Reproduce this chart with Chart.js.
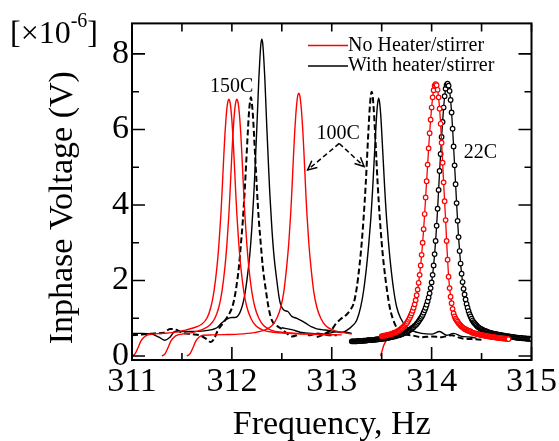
<!DOCTYPE html>
<html><head><meta charset="utf-8">
<script src="https://cdn.jsdelivr.net/npm/chart.js@4.4.1/dist/chart.umd.min.js"></script>
<style>html,body{margin:0;padding:0;background:#fff;}#wrap{width:559px;height:441px;}</style>
</head><body><div id="wrap"><canvas id="c" width="559" height="441"></canvas></div>
<script>
const xTicks = [311, 312, 313, 314, 315];
const xMinor = [311.5, 312.5, 313.5, 314.5];
const yTicks = [0, 2, 4, 6, 8];
const yMinor = [1, 3, 5, 7];
const seriesNames = ['No Heater/stirrer', 'With heater/stirrer'];
const xTitle = 'Frequency, Hz';
const yTitle = 'Inphase Voltage (V)';
const annoText = ['150C', '100C', '22C'];
const annoX = [311.78, 312.848, 314.322];
const annoY = [7.00, 5.76, 5.24];
const arrowFrom = [313.075, 5.63];
const arrowToX = [312.759, 313.324];
const arrowToY = [4.93, 5.02];

// No heater (red), 150C / 100C sweeps
const fR1 = [311.00,311.03,311.06,311.09,311.12,311.16,311.20,311.30,311.40,311.52,311.62,311.70,311.75,311.79,311.82,311.85,311.87,311.89,311.90,311.91,311.92,311.93,311.94,311.95,311.96,311.97,311.98,311.99,312.00,312.01,312.02,312.03,312.04,312.05,312.07,312.09,312.12,312.15,312.19,312.24,312.32,312.42,312.57,312.75,313.00];
const vR1 = [0.00,0.06,0.22,0.40,0.50,0.56,0.58,0.60,0.62,0.68,0.75,0.85,1.00,1.30,1.70,2.34,2.95,3.75,4.25,4.80,5.35,5.85,6.25,6.55,6.74,6.80,6.74,6.55,6.25,5.85,5.35,4.80,4.25,3.75,2.95,2.34,1.70,1.30,1.00,0.80,0.68,0.63,0.60,0.58,0.56];
const fR2 = [311.30,311.33,311.36,311.39,311.42,311.46,311.50,311.60,311.70,311.78,311.83,311.87,311.90,311.93,311.95,311.97,311.98,311.99,312.00,312.01,312.02,312.03,312.04,312.05,312.06,312.07,312.08,312.09,312.10,312.11,312.12,312.13,312.15,312.17,312.20,312.23,312.27,312.32,312.40,312.50,312.65,312.85,313.10];
const vR2 = [0.00,0.06,0.22,0.40,0.50,0.56,0.58,0.62,0.70,0.82,1.00,1.30,1.70,2.34,2.95,3.75,4.25,4.80,5.35,5.85,6.25,6.55,6.74,6.80,6.74,6.55,6.25,5.85,5.35,4.80,4.25,3.75,2.95,2.34,1.70,1.30,1.00,0.80,0.68,0.63,0.60,0.58,0.56];
const fR3 = [311.55,311.58,311.61,311.64,311.67,311.71,311.80,311.95,312.07,312.22,312.32,312.40,312.45,312.49,312.52,312.55,312.57,312.59,312.60,312.61,312.62,312.63,312.64,312.65,312.66,312.67,312.68,312.69,312.70,312.71,312.72,312.73,312.74,312.75,312.77,312.79,312.82,312.85,312.89,312.94,313.02,313.12,313.20];
const vR3 = [0.00,0.06,0.22,0.40,0.50,0.55,0.56,0.57,0.58,0.62,0.68,0.80,1.00,1.30,1.70,2.40,3.00,3.82,4.34,4.91,5.47,5.98,6.39,6.70,6.90,6.96,6.90,6.70,6.39,5.98,5.47,4.91,4.34,3.82,3.00,2.40,1.70,1.30,1.00,0.80,0.68,0.62,0.58];
// red 22C sweep start (line only)
const fR22s = [313.49,313.50,313.52,313.55,313.58,313.61];
const vR22s = [0.00,0.10,0.28,0.42,0.50,0.57];
// red 22C (markers)
const fR22 = [313.50,313.51,313.52,313.53,313.54,313.55,313.56,313.57,313.58,313.59,
313.60,313.61,313.62,313.63,313.64,313.65,313.66,313.67,313.68,313.69,
313.70,313.71,313.72,313.73,313.74,313.75,313.76,313.77,313.78,313.79,
313.80,313.81,313.82,313.83,313.84,313.85,313.86,313.87,313.88,313.89,
313.90,313.91,313.92,313.93,313.94,313.95,313.96,313.97,313.98,313.99,
314.00,314.01,314.02,314.03,314.04,314.05,314.06,314.07,314.08,314.09,
314.10,314.11,314.12,314.13,314.14,314.15,314.16,314.17,314.18,314.19,
314.20,314.21,314.22,314.23,314.24,314.25,314.26,314.27,314.28,314.29,
314.30,314.31,314.32,314.33,314.34,314.35,314.36,314.37,314.38,314.39,
314.40,314.41,314.42,314.43,314.44,314.45,314.46,314.47,314.48,314.49,
314.50,314.51,314.52,314.53,314.54,314.55,314.56,314.57,314.58,314.59,
314.60,314.61,314.62,314.63,314.64,314.65,314.66,314.67,314.68,314.69,
314.70,314.71,314.72,314.73,314.74,314.75,314.76,314.77];
const vR22 = [0.53,0.53,0.54,0.54,0.55,0.55,0.56,0.57,0.57,0.58,
0.59,0.60,0.61,0.62,0.63,0.64,0.66,0.67,0.69,0.71,
0.73,0.75,0.78,0.81,0.84,0.87,0.91,0.96,1.01,1.07,
1.13,1.20,1.28,1.37,1.48,1.61,1.76,1.94,2.15,2.40,
2.68,3.00,3.36,3.76,4.20,4.63,5.07,5.50,5.90,6.26,
6.58,6.85,7.04,7.16,7.20,7.17,7.05,6.85,6.55,6.15,
5.65,5.12,4.60,4.10,3.60,3.05,2.55,2.10,1.80,1.57,
1.40,1.25,1.13,1.05,0.99,0.95,0.91,0.87,0.84,0.81,
0.78,0.76,0.74,0.72,0.71,0.69,0.68,0.67,0.66,0.65,
0.63,0.62,0.61,0.60,0.60,0.59,0.58,0.58,0.57,0.56,
0.56,0.55,0.55,0.54,0.54,0.53,0.53,0.52,0.52,0.51,
0.51,0.50,0.50,0.50,0.49,0.49,0.49,0.48,0.48,0.48,
0.47,0.47,0.47,0.46,0.46,0.46,0.45,0.45];

// With heater (black)
const fBS150 = [311.00,311.10,311.20,311.27,311.33,311.38,311.43,311.50,311.60,311.70,311.80,311.85,311.90,311.95,312.00,312.03,312.08,312.12,312.15,312.18,312.20,312.22,312.23,312.24,312.25,312.26,312.27,312.28,312.29,312.30,312.31,312.32,312.33,312.34,312.35,312.36,312.37,312.38,312.40,312.42,312.45,312.48,312.52,312.56,312.60,312.65,312.70,312.75,312.80,312.85,312.90,312.97,313.05,313.14,313.20];
const vBS150 = [0.60,0.60,0.58,0.50,0.42,0.50,0.65,0.65,0.65,0.66,0.70,0.75,0.88,0.98,1.02,1.02,1.15,1.50,2.00,2.70,3.40,4.30,4.85,5.45,6.05,6.70,7.35,7.85,8.25,8.39,8.25,7.85,7.35,6.70,6.05,5.45,4.85,4.30,3.40,2.70,2.00,1.45,1.22,1.18,1.05,1.00,0.93,0.85,0.77,0.72,0.70,0.68,0.64,0.63,0.60];
const fBD150 = [311.00,311.10,311.22,311.32,311.38,311.44,311.50,311.60,311.68,311.74,311.79,311.82,311.86,311.93,311.98,312.01,312.04,312.07,312.09,312.11,312.12,312.13,312.14,312.15,312.16,312.17,312.18,312.19,312.20,312.21,312.22,312.23,312.24,312.25,312.26,312.27,312.29,312.31,312.34,312.37,312.40,312.45,312.50,312.55,312.60,312.65,312.70,312.78,312.85,312.95,313.05];
const vBD150 = [0.55,0.57,0.60,0.62,0.72,0.70,0.62,0.58,0.55,0.46,0.37,0.45,0.68,0.94,1.15,1.35,1.75,2.35,2.95,3.60,4.00,4.45,4.95,5.45,5.95,6.40,6.70,6.85,6.70,6.40,5.95,5.45,4.95,4.45,4.00,3.60,2.95,2.35,1.75,1.25,0.95,0.80,0.72,0.60,0.52,0.55,0.62,0.55,0.60,0.56,0.55];
const fBS100 = [312.50,312.60,312.70,312.80,312.90,313.00,313.05,313.10,313.15,313.20,313.25,313.29,313.32,313.35,313.37,313.39,313.40,313.41,313.42,313.43,313.44,313.45,313.46,313.47,313.48,313.49,313.50,313.51,313.52,313.53,313.54,313.55,313.57,313.59,313.62,313.65,313.69,313.74,313.80,313.90,314.00,314.08,314.15,314.22,314.30,314.40,314.45];
const vBS100 = [0.75,0.70,0.62,0.60,0.58,0.62,0.65,0.62,0.68,0.78,0.95,1.30,1.75,2.40,2.95,3.60,4.00,4.45,4.95,5.45,5.95,6.40,6.70,6.83,6.70,6.40,5.95,5.45,4.95,4.45,4.00,3.60,2.95,2.40,1.75,1.30,1.00,0.80,0.68,0.60,0.58,0.65,0.55,0.60,0.52,0.50,0.47];
const fBD100 = [312.85,312.90,312.95,313.00,313.04,313.09,313.15,313.18,313.22,313.25,313.28,313.30,313.32,313.33,313.34,313.35,313.36,313.37,313.38,313.39,313.40,313.41,313.42,313.43,313.44,313.45,313.46,313.47,313.48,313.50,313.52,313.55,313.58,313.61,313.65,313.70,313.80,313.90,314.00,314.10,314.20,314.30,314.40,314.50];
const vBD100 = [0.50,0.55,0.62,0.70,0.85,0.98,1.10,1.20,1.40,1.80,2.45,3.00,3.70,4.10,4.55,5.05,5.60,6.10,6.55,6.87,7.00,6.87,6.55,6.10,5.60,5.05,4.55,4.10,3.70,3.00,2.45,1.80,1.30,1.00,0.75,0.60,0.55,0.50,0.52,0.50,0.55,0.47,0.45,0.43];
// black 22C (markers)
const fB22 = [313.20,313.21,313.22,313.23,313.24,313.25,313.26,313.27,313.28,313.29,
313.30,313.31,313.32,313.33,313.34,313.35,313.36,313.37,313.38,313.39,
313.40,313.41,313.42,313.43,313.44,313.45,313.46,313.47,313.48,313.49,
313.50,313.51,313.52,313.53,313.54,313.55,313.56,313.57,313.58,313.59,
313.60,313.61,313.62,313.63,313.64,313.65,313.66,313.67,313.68,313.69,
313.70,313.71,313.72,313.73,313.74,313.75,313.76,313.77,313.78,313.79,
313.80,313.81,313.82,313.83,313.84,313.85,313.86,313.87,313.88,313.89,
313.90,313.91,313.92,313.93,313.94,313.95,313.96,313.97,313.98,313.99,
314.00,314.01,314.02,314.03,314.04,314.05,314.06,314.07,314.08,314.09,
314.10,314.11,314.12,314.13,314.14,314.15,314.16,314.17,314.18,314.19,
314.20,314.21,314.22,314.23,314.24,314.25,314.26,314.27,314.28,314.29,
314.30,314.31,314.32,314.33,314.34,314.35,314.36,314.37,314.38,314.39,
314.40,314.41,314.42,314.43,314.44,314.45,314.46,314.47,314.48,314.49,
314.50,314.51,314.52,314.53,314.54,314.55,314.56,314.57,314.58,314.59,
314.60,314.61,314.62,314.63,314.64,314.65,314.66,314.67,314.68,314.69,
314.70,314.71,314.72,314.73,314.74,314.75,314.76,314.77,314.78,314.79,
314.80,314.81,314.82,314.83,314.84,314.85,314.86,314.87,314.88,314.89,
314.90,314.91,314.92,314.93,314.94,314.95,314.96,314.97,314.98,314.99,
315.00];
const vB22 = [0.39,0.39,0.39,0.39,0.39,0.39,0.40,0.40,0.40,0.40,
0.40,0.40,0.41,0.41,0.41,0.41,0.42,0.42,0.42,0.42,
0.43,0.43,0.43,0.43,0.44,0.44,0.44,0.45,0.45,0.45,
0.46,0.46,0.46,0.47,0.47,0.48,0.48,0.49,0.49,0.50,
0.50,0.51,0.52,0.52,0.53,0.54,0.55,0.55,0.56,0.57,
0.58,0.59,0.61,0.62,0.63,0.64,0.66,0.67,0.69,0.71,
0.73,0.75,0.77,0.80,0.82,0.85,0.88,0.92,0.96,1.00,
1.04,1.09,1.15,1.21,1.28,1.36,1.45,1.55,1.66,1.80,
1.95,2.15,2.40,2.70,3.05,3.45,3.90,4.40,4.90,5.35,
5.80,6.20,6.58,6.88,7.08,7.18,7.21,7.16,7.02,6.78,
6.45,6.02,5.55,5.05,4.55,4.05,3.58,3.15,2.78,2.45,
2.18,1.96,1.78,1.63,1.50,1.38,1.28,1.19,1.11,1.05,
0.99,0.94,0.90,0.87,0.84,0.81,0.78,0.76,0.74,0.72,
0.71,0.69,0.68,0.67,0.66,0.65,0.64,0.63,0.62,0.61,
0.61,0.60,0.59,0.59,0.58,0.58,0.57,0.57,0.56,0.56,
0.55,0.55,0.54,0.54,0.53,0.53,0.52,0.52,0.52,0.51,
0.51,0.50,0.50,0.50,0.49,0.49,0.49,0.48,0.48,0.48,
0.48,0.47,0.47,0.47,0.47,0.46,0.46,0.46,0.46,0.45,
0.45];

const FONT = "'Liberation Serif','Times New Roman',serif";
const RED = '#ff0000', BLACK = '#000000';
const pts = (f, v) => f.map((x, i) => ({x: x, y: v[i]}));

const lineDs = (f, v, color, dashed, order) => ({
  data: pts(f, v), borderColor: color, borderWidth: dashed ? 2 : 1.4,
  borderDash: dashed ? [6, 3] : [], pointRadius: 0, fill: false,
  cubicInterpolationMode: 'monotone', order: order
});
const markDs = (f, v, color, order) => ({
  data: pts(f, v), borderColor: color, borderWidth: 1.3, pointStyle: 'circle',
  pointRadius: 2.3, pointBorderWidth: 1.2, pointBorderColor: color,
  pointBackgroundColor: '#ffffff', fill: false, tension: 0, order: order
});

const framePlugin = {
  id: 'frame',
  afterDatasetsDraw(chart) {
    const {ctx, chartArea: a, scales: {x, y}} = chart;
    ctx.save();
    ctx.strokeStyle = BLACK;
    ctx.lineWidth = 2;
    ctx.strokeRect(a.left, a.top, a.right - a.left, a.bottom - a.top);
    ctx.lineWidth = 1.6;
    ctx.beginPath();
    const seg = (x1, y1, x2, y2) => { ctx.moveTo(x1, y1); ctx.lineTo(x2, y2); };
    xTicks.forEach(v => { const p = x.getPixelForValue(v); seg(p, a.bottom, p, a.bottom - 13); seg(p, a.top, p, a.top + 8); });
    xMinor.forEach(v => { const p = x.getPixelForValue(v); seg(p, a.bottom, p, a.bottom - 7); seg(p, a.top, p, a.top + 8); });
    yTicks.forEach(v => { const p = y.getPixelForValue(v); seg(a.left, p, a.left + 13, p); seg(a.right, p, a.right - 13, p); });
    yMinor.forEach(v => { const p = y.getPixelForValue(v); seg(a.left, p, a.left + 7, p); seg(a.right, p, a.right - 7, p); });
    ctx.stroke();
    ctx.restore();
  }
};

const decorPlugin = {
  id: 'decor',
  afterDraw(chart) {
    const {ctx, chartArea: a, scales: {x, y}} = chart;
    ctx.save();
    ctx.fillStyle = BLACK;
    // y title
    ctx.save();
    ctx.font = '34px ' + FONT;
    ctx.translate(72, (a.top + a.bottom) / 2 + 16);
    ctx.rotate(-Math.PI / 2);
    ctx.textAlign = 'center';
    ctx.textBaseline = 'alphabetic';
    ctx.fillText(yTitle, 0, 0);
    ctx.restore();
    // multiplier
    ctx.textAlign = 'left';
    ctx.textBaseline = 'alphabetic';
    ctx.font = '32px ' + FONT;
    let px = 10;
    ctx.fillText('[\u00d710', px, 43);
    px += ctx.measureText('[\u00d710').width;
    ctx.font = '20px ' + FONT;
    ctx.fillText('-6', px, 27);
    px += ctx.measureText('-6').width;
    ctx.font = '32px ' + FONT;
    ctx.fillText(']', px, 43);
    // legend
    ctx.font = '20px ' + FONT;
    ctx.textBaseline = 'middle';
    const lx0 = a.left + 176, lx1 = a.left + 216;
    [RED, BLACK].forEach((c, i) => {
      const ly = a.top + 22 + i * 20.5;
      ctx.strokeStyle = c; ctx.lineWidth = 1.5;
      ctx.beginPath(); ctx.moveTo(lx0, ly); ctx.lineTo(lx1, ly); ctx.stroke();
      ctx.fillStyle = BLACK;
      ctx.fillText(seriesNames[i], lx1, ly);
    });
    // annotations
    ctx.textBaseline = 'alphabetic';
    ctx.font = '20px ' + FONT;
    annoText.forEach((t, i) => ctx.fillText(t, x.getPixelForValue(annoX[i]), y.getPixelForValue(annoY[i])));
    // arrows
    const sx = x.getPixelForValue(arrowFrom[0]), sy = y.getPixelForValue(arrowFrom[1]);
    ctx.strokeStyle = BLACK; ctx.lineWidth = 1.5;
    arrowToX.forEach((tx0, i) => {
      const tx = x.getPixelForValue(tx0), ty = y.getPixelForValue(arrowToY[i]);
      ctx.setLineDash([5, 3]);
      ctx.beginPath(); ctx.moveTo(sx, sy); ctx.lineTo(tx, ty); ctx.stroke();
      ctx.setLineDash([]);
      const ang = Math.atan2(ty - sy, tx - sx), L = 10, w = 0.45;
      ctx.beginPath();
      ctx.moveTo(tx - L * Math.cos(ang - w), ty - L * Math.sin(ang - w));
      ctx.lineTo(tx, ty);
      ctx.lineTo(tx - L * Math.cos(ang + w), ty - L * Math.sin(ang + w));
      ctx.stroke();
    });
    ctx.restore();
  }
};

new Chart(document.getElementById('c'), {
  type: 'line',
  data: {
    datasets: [
      markDs(fR22, vR22, RED, 0),
      markDs(fB22, vB22, BLACK, 1),
      lineDs(fR22s, vR22s, RED, false, 2),
      lineDs(fR1, vR1, RED, false, 3),
      lineDs(fR2, vR2, RED, false, 4),
      lineDs(fR3, vR3, RED, false, 5),
      lineDs(fBS150, vBS150, BLACK, false, 6),
      lineDs(fBD150, vBD150, BLACK, true, 7),
      lineDs(fBS100, vBS100, BLACK, false, 8),
      lineDs(fBD100, vBD100, BLACK, true, 9)
    ]
  },
  options: {
    responsive: false, animation: false, devicePixelRatio: 1,
    events: [],
    layout: {padding: {left: 0, right: 26, top: 18, bottom: 0}},
    plugins: {legend: {display: false}, tooltip: {enabled: false}},
    scales: {
      x: {
        type: 'linear', min: 311, max: 315,
        grid: {display: false, drawTicks: false}, border: {display: false},
        afterBuildTicks: s => { s.ticks = xTicks.map(v => ({value: v})); },
        afterFit: s => { s.height = 81; },
        ticks: {color: BLACK, font: {family: FONT, size: 34}, padding: 2, autoSkip: false, maxRotation: 0},
        title: {display: true, text: xTitle, color: BLACK, font: {family: FONT, size: 34, lineHeight: 0.94}, padding: 0}
      },
      y: {
        type: 'linear', min: -0.104, max: 8.808,
        grid: {display: false, drawTicks: false}, border: {display: false},
        afterBuildTicks: s => { s.ticks = yTicks.map(v => ({value: v})); },
        afterFit: s => { s.width = 132; },
        ticks: {color: BLACK, font: {family: FONT, size: 34}, padding: 3}
      }
    }
  },
  plugins: [framePlugin, decorPlugin]
});
</script>
</body></html>
